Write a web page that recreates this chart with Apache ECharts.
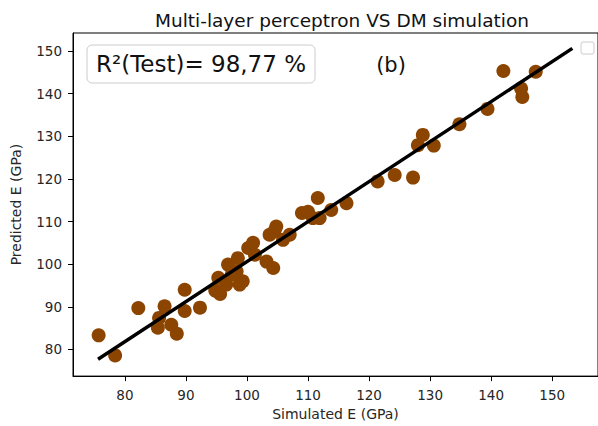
<!DOCTYPE html>
<html>
<head>
<meta charset="utf-8">
<script src="https://cdn.jsdelivr.net/npm/echarts@6/dist/echarts.min.js"></script>
<style>html,body{margin:0;padding:0;background:#fff;}#c{width:598px;height:426px;}</style>
</head>
<body>
<div id="c"></div>
<script>
const simulated = [75.7, 78.4, 82.2, 85.6, 85.4, 86.5, 87.6, 88.5, 89.8, 89.8, 92.3, 94.8, 95.6, 96.6, 95.3, 96.9, 98.3, 97.5, 98.5, 99.3, 98.8, 100.2, 101.0, 101.3, 103.2, 103.7, 104.3, 104.5, 104.8, 105.9, 107.0, 109.0, 110.0, 111.6, 110.8, 111.9, 113.8, 116.3, 121.4, 124.2, 127.2, 128.0, 128.8, 130.6, 134.8, 139.4, 142.0, 144.9, 145.1, 147.3];
const predicted = [83.3, 78.6, 89.7, 87.4, 85.1, 90.1, 85.8, 83.7, 94.0, 89.0, 89.8, 93.8, 93.0, 95.2, 96.8, 99.9, 98.3, 97.5, 101.4, 96.0, 95.2, 103.8, 105.0, 102.2, 100.6, 106.9, 99.1, 107.7, 108.8, 105.7, 106.9, 112.0, 112.3, 115.5, 110.8, 110.8, 112.7, 114.3, 119.4, 120.9, 120.3, 127.9, 130.3, 127.8, 132.8, 136.4, 145.3, 141.2, 139.2, 145.1];
const fitX = [75.6, 153.3];
const fitY = [77.7, 150.6];
const xTicks = [80, 90, 100, 110, 120, 130, 140, 150];
const yTicks = [80, 90, 100, 110, 120, 130, 140, 150];
const titleText = 'Multi-layer perceptron VS DM simulation';
const xName = 'Simulated E (GPa)';
const yName = 'Predicted E (GPa)';
const r2Text = 'R²(Test)= 98,77 %';
const panelText = '(b)';

const font = 'DejaVu Sans';
const chart = echarts.init(document.getElementById('c'), null, {renderer: 'svg'});
function axis(ticks, extra) {
  return Object.assign({
    type: 'value',
    axisLine: {show: true, onZero: false, lineStyle: {color: '#000', width: 1}},
    axisTick: {show: true, inside: false, length: 5, lineStyle: {color: '#000'}, customValues: ticks},
    axisLabel: {color: '#262626', fontFamily: font, fontSize: 13.5, customValues: ticks},
    splitLine: {show: false},
    nameLocation: 'middle',
    nameTextStyle: {color: '#262626', fontFamily: font, fontSize: 14}
  }, extra);
}
const xAx = axis(xTicks, {min: 71.5, max: 157.5, name: xName, nameGap: 27});
xAx.axisLabel.margin = 12;
const yAx = axis(yTicks, {min: 73.75, max: 154.2, name: yName, nameGap: 50});
yAx.axisLabel.margin = 11;
chart.setOption({
  animation: false,
  title: {text: titleText, left: 337, top: 6, textAlign: 'center',
    textStyle: {fontFamily: font, fontSize: 18.5, fontWeight: 'normal', color: '#111'}},
  grid: {left: 73, top: 33, width: 526, height: 344, show: true, borderColor: '#000', borderWidth: 1, backgroundColor: '#fff'},
  xAxis: xAx,
  yAxis: yAx,
  series: [
    {type: 'scatter', data: simulated.map((v, i) => [v, predicted[i]]), symbolSize: 14,
      itemStyle: {color: '#8b4500', opacity: 1}, z: 2},
    {type: 'line', data: fitX.map((v, i) => [v, fitY[i]]), symbol: 'none',
      lineStyle: {color: '#000', width: 3.5}, z: 3}
  ],
  graphic: [
    {type: 'rect', shape: {x: 87, y: 45, width: 228, height: 38, r: 5},
      style: {fill: '#fff', stroke: '#cccccc', lineWidth: 1}, z: 10},
    {type: 'text', x: 96, y: 64, style: {text: r2Text, fontFamily: font, fontSize: 23, fill: '#111', verticalAlign: 'middle'}, z: 11},
    {type: 'text', x: 391, y: 65, style: {text: panelText, fontFamily: font, fontSize: 21, fill: '#111', align: 'center', verticalAlign: 'middle'}, z: 11},
    {type: 'rect', shape: {x: 581, y: 42, width: 13, height: 12, r: 2},
      style: {fill: '#fff', stroke: '#cccccc', lineWidth: 1}, z: 10}
  ]
});
</script>
</body>
</html>
